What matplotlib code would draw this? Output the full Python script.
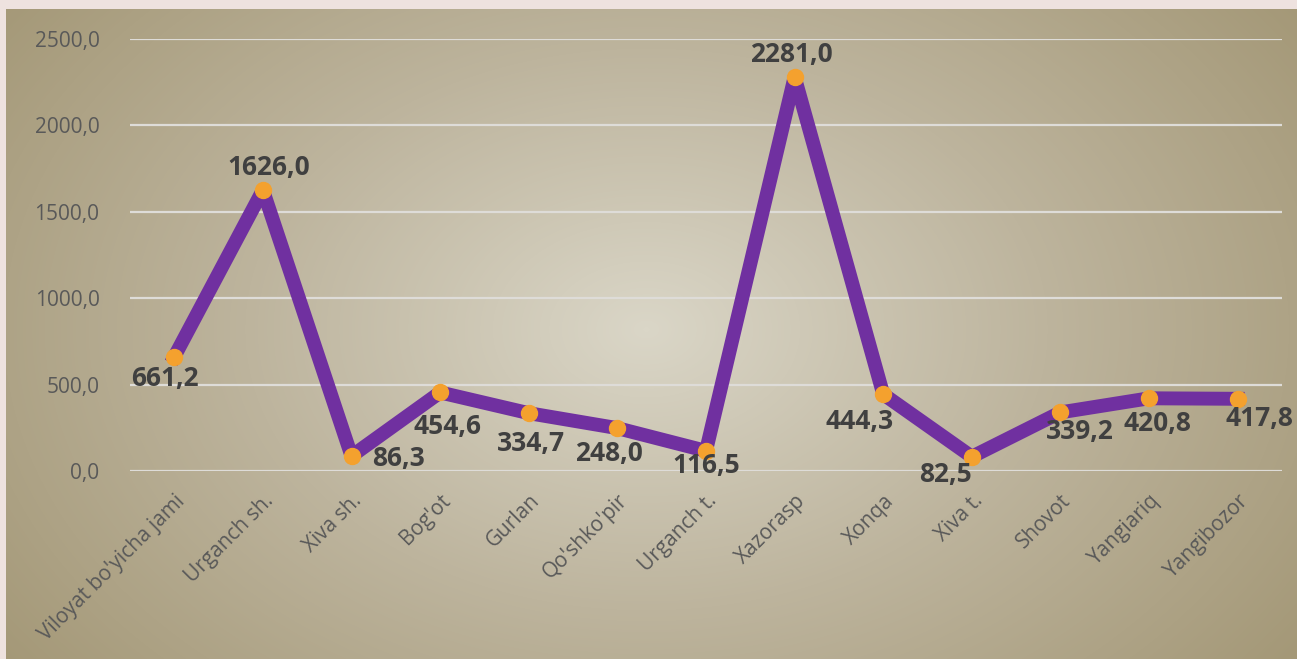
import numpy as np
import matplotlib
matplotlib.use("Agg")
import matplotlib.pyplot as plt
from matplotlib.colors import LinearSegmentedColormap

categories = ["Viloyat bo'yicha jami", "Urganch sh.", "Xiva sh.", "Bog'ot", "Gurlan",
              "Qo'shko'pir", "Urganch t.", "Xazorasp", "Xonqa", "Xiva t.",
              "Shovot", "Yangiariq", "Yangibozor"]
values = [661.2, 1626.0, 86.3, 454.6, 334.7, 248.0, 116.5, 2281.0, 444.3, 82.5,
          339.2, 420.8, 417.8]
yticks = [0, 500, 1000, 1500, 2000, 2500]

# label offsets in pixels (dx, dy) relative to each point
offsets = [(-9, -22), (6, 23), (47, -2), (7, -34), (2, -30), (-8, -25), (0, -15),
           (-3, 22), (-24, -27), (-26, -18), (19, -19), (8, -25), (22, -20)]

W, H = 1297, 659
fig = plt.figure(figsize=(W / 100, H / 100), dpi=100)
fig.patch.set_facecolor("#EEE2DF")

# radial gradient background
bg = fig.add_axes([6 / W, 0, 1 - 6 / W, 1 - 9 / H])
yy, xx = np.mgrid[0:650, 0:1291]
cx, cy = 640, 320
r = np.sqrt(((xx - cx) / 800.0) ** 2 + ((yy - cy) / 560.0) ** 2)
r = np.clip(r / r.max(), 0, 1)
cmap = LinearSegmentedColormap.from_list("bg", ["#DAD6C7", "#BDB49D", "#A49877"])
bg.imshow(r, cmap=cmap, aspect="auto", interpolation="bilinear")
bg.axis("off")

ax = fig.add_axes([130 / W, 1 - 471 / H, (1282 - 130) / W, (471 - 39) / H])
ax.patch.set_alpha(0)
x = np.arange(len(categories))
ax.plot(x, values, color="#7030A0", lw=10, solid_joinstyle="round", zorder=3)
ax.plot(x, values, "o", color="#F4A12E", ms=11.5, zorder=4)

ax.set_xlim(-0.5, len(categories) - 0.5)
ax.set_ylim(0, 2500)
ax.set_yticks(yticks)
ax.set_yticklabels([f"{v:.1f}".replace(".", ",") for v in yticks],
                   fontsize=15, color="#595959", family="Open Sans")
ax.set_xticks(x)
ax.set_xticklabels(categories, rotation=45, ha="right", rotation_mode="anchor",
                   fontsize=15, color="#595959", family="Open Sans")
ax.tick_params(length=0, axis="y", pad=22)
ax.tick_params(length=0, axis="x", pad=14)
ax.grid(axis="y", color="#DEDCD8", lw=1.6)
ax.set_axisbelow(True)
for s in ax.spines.values():
    s.set_visible(False)

for xi, v, (dx, dy) in zip(x, values, offsets):
    ax.annotate(f"{v:.1f}".replace(".", ","), (xi, v), xytext=(dx, dy),
                textcoords="offset pixels", ha="center", va="center",
                fontsize=19, fontweight="bold", color="#404040",
                family="Open Sans", zorder=5)

fig.savefig("out.png", dpi=100, facecolor=fig.get_facecolor())
